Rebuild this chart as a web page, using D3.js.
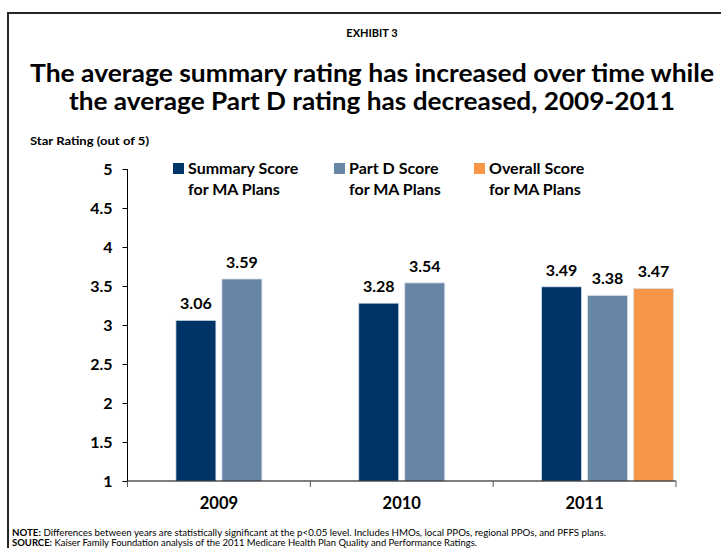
<!DOCTYPE html>
<html>
<head>
<meta charset="utf-8">
<script src="https://cdn.jsdelivr.net/npm/d3@7.9.0/dist/d3.min.js"></script>
<style>
  html, body { margin: 0; padding: 0; background: #fff; }
  svg { display: block; font-family: Lato, 'Open Sans', sans-serif; font-weight: bold; }
</style>
</head>
<body>
<svg id="chart" width="721" height="548"></svg>
<script>
const years = ['2009', '2010', '2011'];
const seriesNames = ['Summary Score for MA Plans', 'Part D Score for MA Plans', 'Overall Score for MA Plans'];
const summaryScores = [3.06, 3.28, 3.49];
const partDScores = [3.59, 3.54, 3.38];
const overallScores = [null, null, 3.47];
const yTicks = [1, 1.5, 2, 2.5, 3, 3.5, 4, 4.5, 5];
const colors = ['#003366', '#6785a4', '#f79646'];

const svg = d3.select('#chart');

// frame
svg.append('rect')
  .attr('x', 8).attr('y', 13)
  .attr('width', 740).attr('height', 560)
  .attr('fill', 'none').attr('stroke', '#262626').attr('stroke-width', 2);

svg.append('text')
  .attr('x', 372).attr('y', 37)
  .attr('text-anchor', 'middle').attr('font-size', 11)
  .text('EXHIBIT 3');

const titleLines = [
  'The average summary rating has increased over time while',
  'the average Part D rating has decreased, 2009-2011'
];
const titleWidths = [684, 606];
titleLines.forEach((line, i) => {
  svg.append('text')
    .attr('x', 372).attr('y', 82 + i * 28)
    .attr('text-anchor', 'middle').attr('font-size', 25.5)
    .attr('textLength', titleWidths[i]).attr('lengthAdjust', 'spacingAndGlyphs')
    .text(line);
});

svg.append('text')
  .attr('x', 30).attr('y', 145)
  .attr('font-size', 11)
  .attr('textLength', 119).attr('lengthAdjust', 'spacingAndGlyphs')
  .text('Star Rating (out of 5)');

const plot = { left: 127.5, right: 676, top: 169, bottom: 481 };

const y = d3.scaleLinear().domain([1, 5]).range([plot.bottom, plot.top]);
const x0 = d3.scaleBand().domain(years).range([plot.left, plot.right]).padding(0);
const x1 = d3.scaleBand().domain(d3.range(seriesNames.length))
  .range([0, 138]).paddingInner(0.13).paddingOuter(0.065);

// y axis
const yAxis = svg.append('g')
  .attr('transform', `translate(${plot.left},0)`)
  .call(d3.axisLeft(y).tickValues(yTicks).tickSize(5).tickPadding(10)
    .tickFormat(d3.format('')));
yAxis.select('.domain').attr('stroke', '#000').attr('stroke-width', 1).attr('d', `M0,${plot.top}V${plot.bottom}`);
yAxis.selectAll('.tick line').attr('stroke', '#000');
yAxis.selectAll('.tick text')
  .attr('font-size', 16).attr('font-weight', 'bold').attr('font-family', 'Lato, sans-serif')
  .attr('fill', '#000');

// bars
const values = [summaryScores, partDScores, overallScores];
const barData = [];
years.forEach((yr, gi) => {
  values.forEach((vals, si) => {
    if (vals[gi] != null) barData.push({ year: yr, s: si, v: vals[gi] });
  });
});

const groupX = (yr) => x0(yr) + x0.bandwidth() / 2 - x1.step();

svg.append('g').selectAll('rect').data(barData).join('rect')
  .attr('x', d => groupX(d.year) + x1(d.s))
  .attr('width', x1.bandwidth())
  .attr('y', d => y(d.v))
  .attr('height', d => y(1) - y(d.v))
  .attr('fill', d => colors[d.s])
  .attr('stroke', '#d9e2ee').attr('stroke-width', 0.8);

svg.append('g').selectAll('text').data(barData).join('text')
  .attr('x', d => groupX(d.year) + x1(d.s) + x1.bandwidth() / 2)
  .attr('y', d => y(d.v) - 11)
  .attr('text-anchor', 'middle').attr('font-size', 16)
  .text(d => d3.format('.2f')(d.v));

// x axis
const xAxisG = svg.append('g').attr('transform', `translate(0,${plot.bottom})`);
xAxisG.append('line')
  .attr('x1', plot.left).attr('x2', plot.right)
  .attr('stroke', '#000').attr('stroke-width', 1.2);
const bounds = [plot.left, ...years.map(yr => x0(yr) + x0.bandwidth())];
xAxisG.selectAll('line.tk').data(bounds).join('line')
  .attr('class', 'tk')
  .attr('x1', d => d).attr('x2', d => d)
  .attr('y1', 0).attr('y2', 6)
  .attr('stroke', '#555');
xAxisG.selectAll('text').data(years).join('text')
  .attr('x', d => x0(d) + x0.bandwidth() / 2)
  .attr('y', 28)
  .attr('text-anchor', 'middle').attr('font-size', 16.5)
  .text(d => d);

// legend
const legendX = [173, 334, 474];
seriesNames.forEach((name, i) => {
  const g = svg.append('g').attr('transform', `translate(${legendX[i]},163)`);
  g.append('rect').attr('width', 11).attr('height', 11).attr('fill', colors[i]);
  const parts = [name.replace(' for MA Plans', ''), 'for MA Plans'];
  parts.forEach((p, j) => {
    g.append('text')
      .attr('x', 15).attr('y', 10.5 + j * 21)
      .attr('font-size', 16)
      .text(p);
  });
});

// footnotes
const note = svg.append('text').attr('x', 12).attr('y', 536).attr('font-size', 8.5)
  .attr('font-weight', 'normal').attr('textLength', 594).attr('lengthAdjust', 'spacingAndGlyphs');
note.append('tspan').attr('font-weight', 'bold').text('NOTE:');
note.append('tspan').text(' Differences between years are statistically significant at the p<0.05 level.  Includes HMOs, local PPOs, regional PPOs, and PFFS plans.');

const src = svg.append('text').attr('x', 12).attr('y', 546).attr('font-size', 8.5)
  .attr('font-weight', 'normal').attr('textLength', 465).attr('lengthAdjust', 'spacingAndGlyphs');
src.append('tspan').attr('font-weight', 'bold').text('SOURCE:');
src.append('tspan').text('  Kaiser Family Foundation analysis of the 2011 Medicare Health Plan Quality and Performance Ratings.');
</script>
</body>
</html>
